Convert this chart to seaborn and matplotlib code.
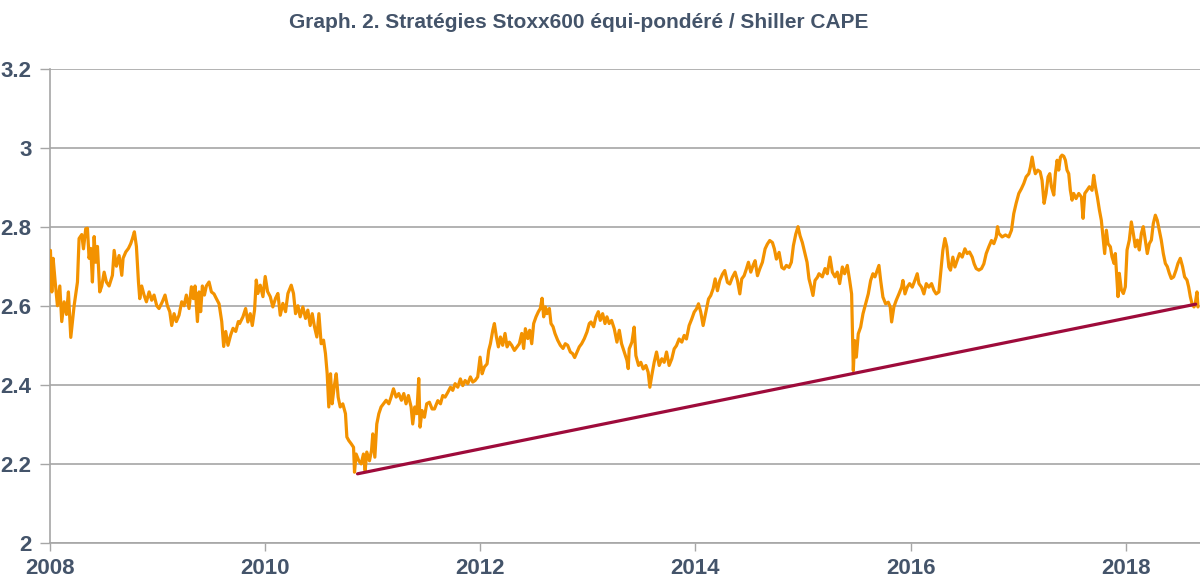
import numpy as np
import pandas as pd
import matplotlib
matplotlib.use("Agg")
import matplotlib.pyplot as plt
import seaborn as sns

# ---------------- data ----------------
years_2008_09 = [2008.006, 2008.019, 2008.031, 2008.050, 2008.071, 2008.093, 2008.111, 2008.133, 2008.155, 2008.173,
                 2008.195, 2008.211, 2008.226, 2008.257, 2008.272, 2008.297, 2008.313, 2008.334, 2008.350, 2008.365,
                 2008.381, 2008.396, 2008.412, 2008.427, 2008.443, 2008.464, 2008.483, 2008.505, 2008.526, 2008.551,
                 2008.582, 2008.598, 2008.619, 2008.644, 2008.669, 2008.681, 2008.706, 2008.731, 2008.752, 2008.768,
                 2008.786, 2008.805, 2008.824, 2008.836, 2008.854, 2008.876, 2008.898, 2008.923, 2008.947, 2008.969,
                 2008.994, 2009.015, 2009.046, 2009.071, 2009.093, 2009.115, 2009.133, 2009.155, 2009.176, 2009.201,
                 2009.226, 2009.248, 2009.269, 2009.294, 2009.316, 2009.334, 2009.350, 2009.372, 2009.387, 2009.402,
                 2009.418, 2009.437, 2009.455, 2009.480, 2009.502, 2009.526, 2009.548, 2009.573, 2009.598, 2009.616,
                 2009.635, 2009.656, 2009.681, 2009.703, 2009.728, 2009.752]
values_2008_09 = [2.74, 2.635, 2.72, 2.66, 2.60, 2.65, 2.56, 2.61, 2.578, 2.635,
                  2.52, 2.56, 2.60, 2.66, 2.77, 2.78, 2.744, 2.795, 2.796, 2.72,
                  2.745, 2.66, 2.775, 2.71, 2.75, 2.635, 2.65, 2.685, 2.66, 2.65,
                  2.677, 2.74, 2.70, 2.727, 2.677, 2.72, 2.736, 2.745, 2.757, 2.77,
                  2.787, 2.75, 2.66, 2.618, 2.65, 2.627, 2.61, 2.635, 2.614, 2.627,
                  2.60, 2.593, 2.61, 2.627, 2.60, 2.585, 2.55, 2.58, 2.56, 2.576,
                  2.61, 2.60, 2.627, 2.593, 2.648, 2.618, 2.65, 2.56, 2.635, 2.585,
                  2.65, 2.627, 2.65, 2.66, 2.635, 2.63, 2.618, 2.605, 2.56, 2.497,
                  2.535, 2.50, 2.526, 2.543, 2.535, 2.56]

years_2009_11 = [2009.764, 2009.795, 2009.820, 2009.841, 2009.863, 2009.882, 2009.903, 2009.919, 2009.934, 2009.956,
                 2009.981, 2010.002, 2010.024, 2010.049, 2010.073, 2010.098, 2010.120, 2010.142, 2010.166, 2010.191,
                 2010.213, 2010.244, 2010.265, 2010.284, 2010.306, 2010.327, 2010.352, 2010.377, 2010.398, 2010.420,
                 2010.439, 2010.460, 2010.482, 2010.501, 2010.522, 2010.544, 2010.562, 2010.578, 2010.593, 2010.609,
                 2010.624, 2010.643, 2010.662, 2010.680, 2010.699, 2010.723, 2010.748, 2010.761, 2010.779, 2010.801,
                 2010.823, 2010.832, 2010.847, 2010.872, 2010.894, 2010.915, 2010.931, 2010.946, 2010.971, 2010.990,
                 2011.002, 2011.021, 2011.039, 2011.058, 2011.079, 2011.101, 2011.126, 2011.151, 2011.172, 2011.194,
                 2011.219, 2011.243, 2011.268, 2011.290, 2011.311, 2011.333, 2011.358, 2011.373, 2011.392, 2011.411,
                 2011.429, 2011.441, 2011.460, 2011.482, 2011.503, 2011.528, 2011.553]
values_2009_11 = [2.555, 2.572, 2.593, 2.559, 2.58, 2.55, 2.589, 2.665, 2.631, 2.652,
                  2.623, 2.674, 2.636, 2.623, 2.597, 2.619, 2.631, 2.576, 2.606, 2.585,
                  2.631, 2.652, 2.631, 2.58, 2.60, 2.572, 2.597, 2.568, 2.589, 2.55,
                  2.58, 2.547, 2.521, 2.58, 2.504, 2.513, 2.479, 2.428, 2.344, 2.428,
                  2.352, 2.395, 2.428, 2.369, 2.344, 2.352, 2.327, 2.268, 2.259, 2.251,
                  2.242, 2.179, 2.225, 2.208, 2.20, 2.225, 2.183, 2.23, 2.208, 2.234,
                  2.276, 2.217, 2.301, 2.327, 2.344, 2.352, 2.361, 2.352, 2.369, 2.39,
                  2.369, 2.378, 2.361, 2.378, 2.352, 2.373, 2.344, 2.301, 2.344, 2.327,
                  2.416, 2.293, 2.335, 2.318, 2.352, 2.356, 2.339]

years_2011_13 = [2011.575, 2011.606, 2011.631, 2011.652, 2011.674, 2011.699, 2011.724, 2011.745, 2011.767, 2011.792,
                 2011.816, 2011.838, 2011.860, 2011.885, 2011.909, 2011.931, 2011.953, 2011.977, 2011.999, 2012.018,
                 2012.039, 2012.064, 2012.079, 2012.095, 2012.117, 2012.132, 2012.151, 2012.169, 2012.188, 2012.209,
                 2012.231, 2012.250, 2012.271, 2012.293, 2012.318, 2012.343, 2012.364, 2012.386, 2012.404, 2012.420,
                 2012.442, 2012.460, 2012.479, 2012.497, 2012.519, 2012.541, 2012.559, 2012.575, 2012.590, 2012.606,
                 2012.621, 2012.643, 2012.658, 2012.677, 2012.695, 2012.720, 2012.745, 2012.770, 2012.791, 2012.813,
                 2012.838, 2012.859, 2012.878, 2012.900, 2012.921, 2012.943, 2012.968, 2012.993, 2013.014, 2013.030,
                 2013.054, 2013.076, 2013.098, 2013.116, 2013.138, 2013.160, 2013.178, 2013.199, 2013.221, 2013.246,
                 2013.271, 2013.293, 2013.314, 2013.339, 2013.364, 2013.376]
values_2011_13 = [2.339, 2.36, 2.352, 2.373, 2.369, 2.381, 2.394, 2.386, 2.403, 2.394,
                  2.415, 2.398, 2.411, 2.403, 2.42, 2.407, 2.411, 2.42, 2.47, 2.428,
                  2.445, 2.453, 2.487, 2.504, 2.538, 2.555, 2.521, 2.496, 2.521, 2.50,
                  2.53, 2.496, 2.508, 2.50, 2.487, 2.496, 2.504, 2.53, 2.492, 2.542,
                  2.517, 2.538, 2.504, 2.555, 2.572, 2.585, 2.593, 2.619, 2.572, 2.597,
                  2.58, 2.593, 2.555, 2.547, 2.53, 2.513, 2.50, 2.492, 2.504, 2.50,
                  2.483, 2.479, 2.469, 2.483, 2.496, 2.504, 2.517, 2.534, 2.555, 2.559,
                  2.547, 2.572, 2.585, 2.563, 2.58, 2.555, 2.572, 2.555, 2.563, 2.542,
                  2.508, 2.538, 2.504, 2.483, 2.462, 2.441]

years_2013_15 = [2013.385, 2013.410, 2013.431, 2013.447, 2013.472, 2013.493, 2013.515, 2013.540, 2013.561, 2013.577,
                 2013.595, 2013.617, 2013.639, 2013.664, 2013.688, 2013.710, 2013.732, 2013.756, 2013.781, 2013.803,
                 2013.824, 2013.849, 2013.874, 2013.896, 2013.917, 2013.942, 2013.967, 2013.989, 2014.010, 2014.029,
                 2014.050, 2014.072, 2014.097, 2014.122, 2014.143, 2014.165, 2014.184, 2014.205, 2014.227, 2014.252,
                 2014.273, 2014.298, 2014.320, 2014.344, 2014.369, 2014.391, 2014.413, 2014.431, 2014.453, 2014.474,
                 2014.493, 2014.515, 2014.536, 2014.555, 2014.577, 2014.598, 2014.623, 2014.648, 2014.669, 2014.691,
                 2014.716, 2014.734, 2014.753, 2014.778, 2014.803, 2014.824, 2014.846, 2014.871, 2014.892, 2014.911,
                 2014.933, 2014.954, 2014.973, 2014.994, 2015.016, 2015.038, 2015.056, 2015.072, 2015.093, 2015.112,
                 2015.134]
values_2013_15 = [2.491, 2.508, 2.546, 2.474, 2.449, 2.457, 2.44, 2.449, 2.432, 2.394,
                  2.424, 2.457, 2.483, 2.449, 2.466, 2.457, 2.483, 2.449, 2.466, 2.491,
                  2.499, 2.516, 2.508, 2.525, 2.516, 2.55, 2.567, 2.584, 2.592, 2.605,
                  2.584, 2.55, 2.584, 2.617, 2.626, 2.643, 2.668, 2.638, 2.664, 2.68,
                  2.689, 2.659, 2.655, 2.672, 2.685, 2.664, 2.63, 2.668, 2.676, 2.693,
                  2.71, 2.685, 2.702, 2.714, 2.676, 2.693, 2.71, 2.744, 2.756, 2.765,
                  2.76, 2.744, 2.718, 2.735, 2.697, 2.693, 2.702, 2.697, 2.71, 2.752,
                  2.781, 2.80, 2.777, 2.76, 2.735, 2.71, 2.668, 2.651, 2.626, 2.664,
                  2.672]

years_2015_16 = [2015.149, 2015.180, 2015.205, 2015.226, 2015.251, 2015.273, 2015.298, 2015.319, 2015.341, 2015.366,
                 2015.387, 2015.412, 2015.434, 2015.452, 2015.468, 2015.480, 2015.496, 2015.514, 2015.536, 2015.558,
                 2015.582, 2015.607, 2015.629, 2015.650, 2015.669, 2015.691, 2015.706, 2015.722, 2015.743, 2015.768,
                 2015.793, 2015.811, 2015.824, 2015.845, 2015.867, 2015.892, 2015.917, 2015.929, 2015.948, 2015.969,
                 2015.991, 2016.016, 2016.040, 2016.062, 2016.078, 2016.102, 2016.124, 2016.146, 2016.170, 2016.195,
                 2016.217, 2016.238, 2016.263, 2016.279, 2016.300, 2016.319, 2016.337, 2016.356, 2016.371, 2016.393,
                 2016.412, 2016.433, 2016.455, 2016.480, 2016.505, 2016.526, 2016.548, 2016.573, 2016.591, 2016.610,
                 2016.635, 2016.659, 2016.681, 2016.703, 2016.727, 2016.752, 2016.774, 2016.796, 2016.808]
values_2015_16 = [2.681, 2.673, 2.694, 2.681, 2.723, 2.685, 2.673, 2.685, 2.656, 2.698,
                  2.681, 2.702, 2.664, 2.63, 2.436, 2.512, 2.47, 2.529, 2.546, 2.58,
                  2.605, 2.63, 2.664, 2.681, 2.673, 2.69, 2.702, 2.664, 2.622, 2.605,
                  2.609, 2.597, 2.559, 2.597, 2.614, 2.63, 2.647, 2.664, 2.63, 2.647,
                  2.656, 2.647, 2.664, 2.681, 2.656, 2.647, 2.63, 2.656, 2.647, 2.656,
                  2.639, 2.63, 2.635, 2.681, 2.74, 2.77, 2.749, 2.698, 2.69, 2.723,
                  2.698, 2.715, 2.732, 2.723, 2.744, 2.732, 2.736, 2.723, 2.706, 2.694,
                  2.69, 2.694, 2.706, 2.732, 2.749, 2.765, 2.757, 2.774, 2.80]

years_2016_18 = [2016.820, 2016.851, 2016.882, 2016.913, 2016.938, 2016.959, 2016.981, 2017.006, 2017.030, 2017.052,
                 2017.074, 2017.099, 2017.114, 2017.130, 2017.145, 2017.160, 2017.182, 2017.204, 2017.222, 2017.241,
                 2017.259, 2017.278, 2017.294, 2017.309, 2017.331, 2017.346, 2017.362, 2017.377, 2017.393, 2017.408,
                 2017.424, 2017.439, 2017.454, 2017.470, 2017.485, 2017.501, 2017.516, 2017.538, 2017.563, 2017.588,
                 2017.603, 2017.619, 2017.640, 2017.662, 2017.687, 2017.702, 2017.718, 2017.736, 2017.755, 2017.773,
                 2017.792, 2017.804, 2017.820, 2017.835, 2017.857, 2017.872, 2017.891, 2017.903, 2017.919, 2017.928,
                 2017.940, 2017.959, 2017.978, 2017.996, 2018.012, 2018.033, 2018.052, 2018.070, 2018.089, 2018.108,
                 2018.126, 2018.145, 2018.163, 2018.182, 2018.200, 2018.219, 2018.238, 2018.256, 2018.275, 2018.293,
                 2018.312, 2018.330, 2018.349, 2018.368, 2018.386, 2018.405, 2018.423, 2018.445, 2018.467, 2018.485,
                 2018.507, 2018.528, 2018.547, 2018.569, 2018.584, 2018.600, 2018.615, 2018.634, 2018.646, 2018.662,
                 2018.671]
values_2016_18 = [2.783, 2.774, 2.779, 2.774, 2.791, 2.833, 2.859, 2.884, 2.896, 2.909,
                  2.926, 2.934, 2.951, 2.976, 2.951, 2.934, 2.943, 2.939, 2.917, 2.859,
                  2.884, 2.926, 2.934, 2.901, 2.88, 2.934, 2.968, 2.943, 2.976, 2.981,
                  2.978, 2.968, 2.943, 2.934, 2.892, 2.867, 2.884, 2.871, 2.884, 2.875,
                  2.821, 2.884, 2.892, 2.901, 2.892, 2.93, 2.901, 2.875, 2.842, 2.816,
                  2.766, 2.732, 2.791, 2.757, 2.749, 2.724, 2.707, 2.732, 2.665, 2.623,
                  2.682, 2.64, 2.631, 2.648, 2.741, 2.766, 2.812, 2.783, 2.749, 2.766,
                  2.741, 2.783, 2.80, 2.766, 2.732, 2.757, 2.766, 2.808, 2.829, 2.816,
                  2.791, 2.766, 2.732, 2.707, 2.699, 2.682, 2.669, 2.673, 2.69, 2.707,
                  2.72, 2.699, 2.673, 2.665, 2.648, 2.623, 2.606, 2.597, 2.606, 2.635,
                  2.597]

trend_years = [2010.86, 2018.65]
trend_values = [2.175, 2.604]

x_ticks = [2008, 2010, 2012, 2014, 2016, 2018]
x_tick_labels = ["2008", "2010", "2012", "2014", "2016", "2018"]
y_ticks = [2.0, 2.2, 2.4, 2.6, 2.8, 3.0, 3.2]
y_tick_labels = ["2", "2.2", "2.4", "2.6", "2.8", "3", "3.2"]

title = "Graph. 2. Stratégies Stoxx600 équi-pondéré / Shiller CAPE"

# ---------------- build frames ----------------
all_years = (years_2008_09 + years_2009_11 + years_2011_13 + years_2013_15
             + years_2015_16 + years_2016_18)
all_values = (values_2008_09 + values_2009_11 + values_2011_13 + values_2013_15
              + values_2015_16 + values_2016_18)
df = pd.DataFrame({"year": all_years, "value": all_values})
trend = pd.DataFrame({"year": trend_years, "value": trend_values})

# ---------------- style ----------------
sns.set_theme(style="white")
plt.rcParams['font.family'] = ['Liberation Sans', 'DejaVu Sans']

TEXT = "#44546A"
GRID = "#A6A6A6"
ORANGE = "#F39200"
RED = "#9E0B3B"

fig = plt.figure(figsize=(12, 5.82), dpi=100)
ax = fig.add_axes([0.0415, 0.067, 0.9585, 0.8153])

sns.lineplot(data=df, x="year", y="value", color=ORANGE, linewidth=2.3,
             estimator=None, sort=False, ax=ax, zorder=3)
sns.lineplot(data=trend, x="year", y="value", color=RED, linewidth=2.3,
             estimator=None, sort=False, ax=ax, zorder=4)

ax.set_xlim(2008, 2018.69)
ax.set_ylim(2, 3.2)
ax.set_xticks(x_ticks)
ax.set_xticklabels(x_tick_labels)
ax.set_yticks(y_ticks)
ax.set_yticklabels(y_tick_labels)
ax.set_xlabel("")
ax.set_ylabel("")

ax.grid(axis="y", color=GRID, linewidth=1.2, zorder=0)
ax.grid(axis="x", visible=False)
for side in ["top", "right"]:
    ax.spines[side].set_visible(False)
for side in ["left", "bottom"]:
    ax.spines[side].set_visible(True)
    ax.spines[side].set_color(GRID)
    ax.spines[side].set_linewidth(1.2)

ax.tick_params(axis="x", which="major", bottom=True, length=6, width=1.0, color=GRID,
               labelsize=16, labelcolor=TEXT, pad=5, direction="out")
ax.tick_params(axis="y", which="major", left=True, length=7, width=1.0, color=GRID,
               labelsize=16, labelcolor=TEXT, pad=6, direction="out")
for lbl in ax.get_xticklabels() + ax.get_yticklabels():
    lbl.set_fontweight("bold")

fig.text(0.482, 0.962, title, ha="center", va="center", fontsize=15,
         fontweight="bold", color=TEXT)

fig.savefig("out.png", dpi=100)
